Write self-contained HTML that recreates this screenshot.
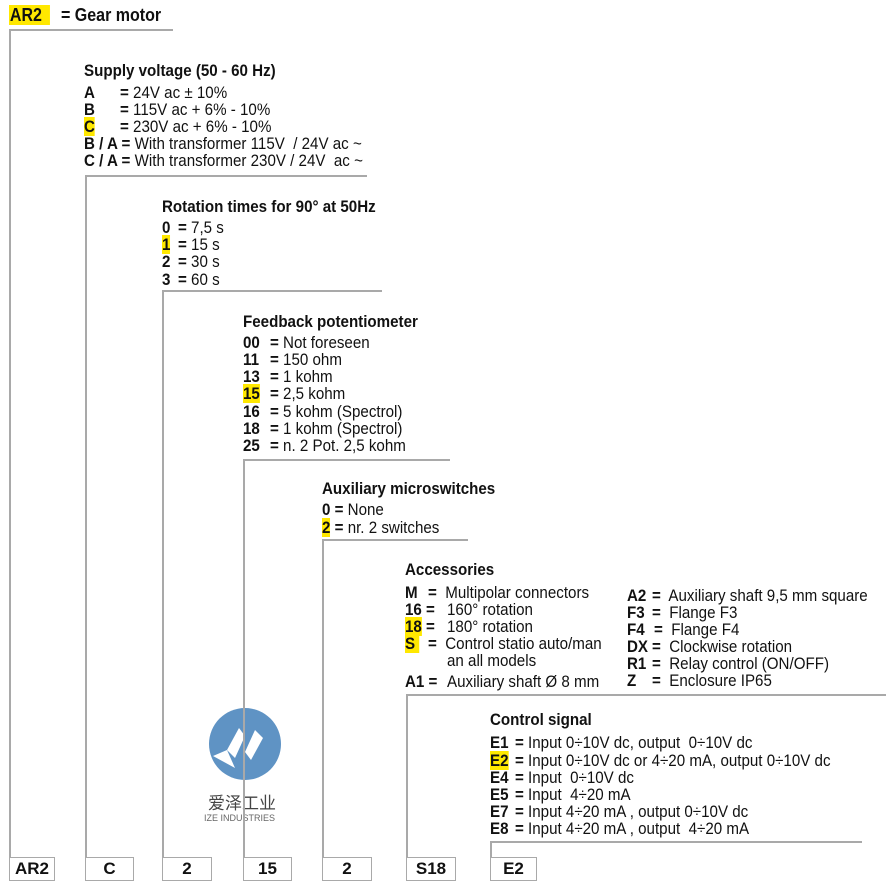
<!DOCTYPE html>
<html><head><meta charset="utf-8"><style>
body{margin:0;width:891px;height:886px;background:#fff;position:relative;overflow:hidden;font-family:"Liberation Sans",sans-serif;color:#111}
.l{position:absolute;background:#a9a9a9}
.t{position:absolute;font-size:17px;line-height:18px;white-space:nowrap;transform:scaleX(0.89);transform-origin:0 0}
.h{font-weight:bold;font-size:17px}
b{font-weight:bold}
.y{background:#ffe800}
.bx{position:absolute;top:857px;height:22px;border:1px solid #a9a9a9;font-weight:bold;font-size:17px;line-height:22px;text-align:center}
</style></head><body>
<!-- lines -->
<div class="l" style="left:9px;top:29px;width:164px;height:1.5px"></div>
<div class="l" style="left:9px;top:29px;width:1.5px;height:828px"></div>
<div class="l" style="left:85px;top:175px;width:282px;height:1.5px"></div>
<div class="l" style="left:85px;top:175px;width:1.5px;height:682px"></div>
<div class="l" style="left:162px;top:290px;width:220px;height:1.5px"></div>
<div class="l" style="left:162px;top:290px;width:1.5px;height:567px"></div>
<div class="l" style="left:243px;top:459px;width:207px;height:1.5px"></div>
<div class="l" style="left:243px;top:459px;width:1.5px;height:398px"></div>
<div class="l" style="left:322px;top:539px;width:146px;height:1.5px"></div>
<div class="l" style="left:322px;top:539px;width:1.5px;height:318px"></div>
<div class="l" style="left:406px;top:694px;width:480px;height:1.5px"></div>
<div class="l" style="left:406px;top:694px;width:1.5px;height:163px"></div>
<div class="l" style="left:490px;top:841px;width:372px;height:1.5px"></div>
<div class="l" style="left:490px;top:841px;width:1.5px;height:16px"></div>

<!-- logo -->
<svg style="position:absolute;left:205px;top:706px" width="80" height="80" viewBox="0 0 80 80">
<circle cx="40" cy="38" r="36" fill="#5f93c4"/>
<path d="M22 44 L34 22 L40 30 L30 52 Z" fill="#fff"/>
<path d="M58 32 L46 54 L40 46 L50 24 Z" fill="#fff"/>
<path d="M8 50 L22 44 L30 62 Z" fill="#fff"/>
</svg>
<div style="position:absolute;left:208px;top:793px;font-family:'Noto Sans CJK SC',sans-serif;font-size:17px;line-height:18px;color:#444">爱泽工业</div>
<div style="position:absolute;left:204px;top:813px;font-size:9px;color:#666;white-space:nowrap">IZE INDUSTRIES</div>
<div class="l" style="left:243px;top:700px;width:1.5px;height:157px"></div>

<!-- header -->
<div class="t h" style="left:9px;top:5px;font-size:18px;line-height:20px"><span class="y" style="padding:0 9px 0 1px">AR2</span></div>
<div class="t h" style="left:61px;top:5px;font-size:18px;line-height:20px">= Gear motor</div>

<div class="t h" style="left:84px;top:62px">Supply voltage (50 - 60 Hz)</div>
<div class="t" style="left:84px;top:84px"><b>A</b></div><div class="t" style="left:120px;top:84px"><b>=</b> 24V ac ± 10%</div>
<div class="t" style="left:84px;top:101px"><b>B</b></div><div class="t" style="left:120px;top:101px"><b>=</b> 115V ac + 6% - 10%</div>
<div class="t" style="left:84px;top:118px"><b class="y">C</b></div><div class="t" style="left:120px;top:118px"><b>=</b> 230V ac + 6% - 10%</div>
<div class="t" style="left:84px;top:135px"><b>B / A =</b> With transformer 115V &nbsp;/ 24V ac ~</div>
<div class="t" style="left:84px;top:152px"><b>C / A =</b> With transformer 230V / 24V &nbsp;ac ~</div>

<div class="t h" style="left:162px;top:198px">Rotation times for 90° at 50Hz</div>
<div class="t" style="left:162px;top:219px"><b>0</b></div><div class="t" style="left:178px;top:219px"><b>=</b> 7,5 s</div>
<div class="t" style="left:162px;top:236px"><b class="y">1</b></div><div class="t" style="left:178px;top:236px"><b>=</b> 15 s</div>
<div class="t" style="left:162px;top:253px"><b>2</b></div><div class="t" style="left:178px;top:253px"><b>=</b> 30 s</div>
<div class="t" style="left:162px;top:271px"><b>3</b></div><div class="t" style="left:178px;top:271px"><b>=</b> 60 s</div>

<div class="t h" style="left:243px;top:313px">Feedback potentiometer</div>
<div class="t" style="left:243px;top:334px"><b>00</b></div><div class="t" style="left:270px;top:334px"><b>=</b> Not foreseen</div>
<div class="t" style="left:243px;top:351px"><b>11</b></div><div class="t" style="left:270px;top:351px"><b>=</b> 150 ohm</div>
<div class="t" style="left:243px;top:368px"><b>13</b></div><div class="t" style="left:270px;top:368px"><b>=</b> 1 kohm</div>
<div class="t" style="left:243px;top:385px"><b class="y">15</b></div><div class="t" style="left:270px;top:385px"><b>=</b> 2,5 kohm</div>
<div class="t" style="left:243px;top:403px"><b>16</b></div><div class="t" style="left:270px;top:403px"><b>=</b> 5 kohm (Spectrol)</div>
<div class="t" style="left:243px;top:420px"><b>18</b></div><div class="t" style="left:270px;top:420px"><b>=</b> 1 kohm (Spectrol)</div>
<div class="t" style="left:243px;top:437px"><b>25</b></div><div class="t" style="left:270px;top:437px"><b>=</b> n. 2 Pot. 2,5 kohm</div>

<div class="t h" style="left:322px;top:480px">Auxiliary microswitches</div>
<div class="t" style="left:322px;top:501px"><b>0 =</b> None</div>
<div class="t" style="left:322px;top:519px"><b class="y">2</b> <b>=</b> nr. 2 switches</div>

<div class="t h" style="left:405px;top:561px">Accessories</div>
<div class="t" style="left:405px;top:584px"><b>M</b></div><div class="t" style="left:428px;top:584px"><b>=</b>&nbsp; Multipolar connectors</div>
<div class="t" style="left:405px;top:601px"><b>16 =</b></div><div class="t" style="left:447px;top:601px">160° rotation</div>
<div class="t" style="left:405px;top:618px"><b class="y">18</b><b> =</b></div><div class="t" style="left:447px;top:618px">180° rotation</div>
<div class="t" style="left:405px;top:635px"><b class="y">S&nbsp;</b></div><div class="t" style="left:428px;top:635px"><b>=</b>&nbsp; Control statio auto/man</div>
<div class="t" style="left:447px;top:652px">an all models</div>
<div class="t" style="left:405px;top:673px"><b>A1 =</b></div><div class="t" style="left:447px;top:673px">Auxiliary shaft Ø 8 mm</div>

<div class="t" style="left:627px;top:587px"><b>A2</b></div><div class="t" style="left:652px;top:587px"><b>=</b>&nbsp; Auxiliary shaft 9,5 mm square</div>
<div class="t" style="left:627px;top:604px"><b>F3</b></div><div class="t" style="left:652px;top:604px"><b>=</b>&nbsp; Flange F3</div>
<div class="t" style="left:627px;top:621px"><b>F4</b></div><div class="t" style="left:654px;top:621px"><b>=</b>&nbsp; Flange F4</div>
<div class="t" style="left:627px;top:638px"><b>DX</b></div><div class="t" style="left:652px;top:638px"><b>=</b>&nbsp; Clockwise rotation</div>
<div class="t" style="left:627px;top:655px"><b>R1</b></div><div class="t" style="left:652px;top:655px"><b>=</b>&nbsp; Relay control (ON/OFF)</div>
<div class="t" style="left:627px;top:672px"><b>Z</b></div><div class="t" style="left:652px;top:672px"><b>=</b>&nbsp; Enclosure IP65</div>

<div class="t h" style="left:490px;top:711px">Control signal</div>
<div class="t" style="left:490px;top:734px"><b>E1</b></div><div class="t" style="left:515px;top:734px"><b>=</b> Input 0÷10V dc, output &nbsp;0÷10V dc</div>
<div class="t" style="left:490px;top:752px"><b class="y">E2</b></div><div class="t" style="left:515px;top:752px"><b>=</b> Input 0÷10V dc or 4÷20 mA, output 0÷10V dc</div>
<div class="t" style="left:490px;top:769px"><b>E4</b></div><div class="t" style="left:515px;top:769px"><b>=</b> Input &nbsp;0÷10V dc</div>
<div class="t" style="left:490px;top:786px"><b>E5</b></div><div class="t" style="left:515px;top:786px"><b>=</b> Input &nbsp;4÷20 mA</div>
<div class="t" style="left:490px;top:803px"><b>E7</b></div><div class="t" style="left:515px;top:803px"><b>=</b> Input 4÷20 mA , output 0÷10V dc</div>
<div class="t" style="left:490px;top:820px"><b>E8</b></div><div class="t" style="left:515px;top:820px"><b>=</b> Input 4÷20 mA , output &nbsp;4÷20 mA</div>

<!-- bottom boxes -->
<div class="bx" style="left:9px;width:44px">AR2</div>
<div class="bx" style="left:85px;width:47px">C</div>
<div class="bx" style="left:162px;width:48px">2</div>
<div class="bx" style="left:243px;width:47px">15</div>
<div class="bx" style="left:322px;width:48px">2</div>
<div class="bx" style="left:406px;width:48px">S18</div>
<div class="bx" style="left:490px;width:45px">E2</div>
</body></html>
